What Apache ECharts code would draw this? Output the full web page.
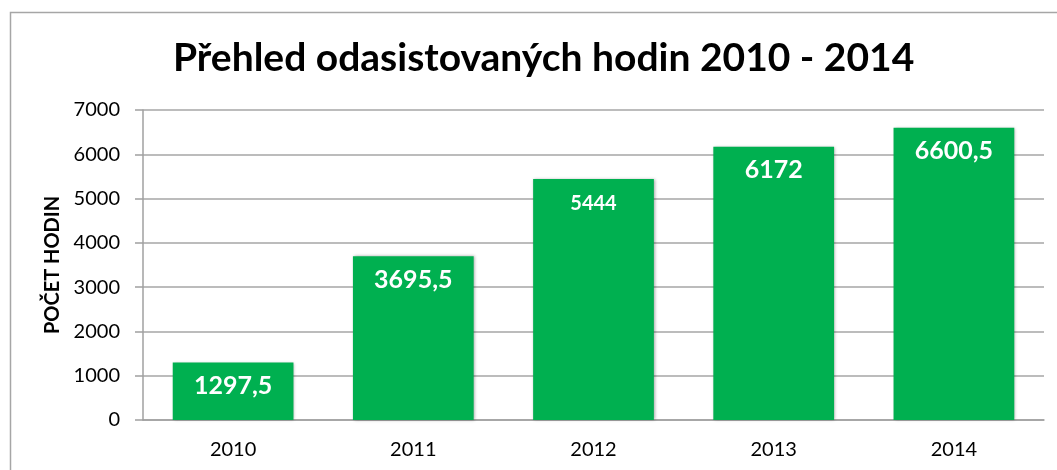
<!DOCTYPE html>
<html><head><meta charset="utf-8">
<script src="https://cdn.jsdelivr.net/npm/echarts@6/dist/echarts.min.js"></script>
<style>html,body{margin:0;padding:0;background:#fff}#c{width:1057px;height:470px}</style>
</head><body><div id="c"></div>
<script>
const categories = ['2010', '2011', '2012', '2013', '2014'];
const hours = [1297.5, 3695.5, 5444, 6172, 6600.5];
const yTicks = [0, 1000, 2000, 3000, 4000, 5000, 6000, 7000];
const titleText = 'Přehled odasistovaných hodin 2010 - 2014';
const yName = 'POČET HODIN';

const FONT = 'Lato, "Open Sans", sans-serif';
const chart = echarts.init(document.getElementById('c'), null, {renderer: 'canvas'});
chart.setOption({
  animation: false,
  backgroundColor: '#fff',
  graphic: [{
    type: 'rect', left: 8, top: 10, silent: true,
    shape: {width: 1200, height: 600},
    style: {fill: 'none', stroke: '#a6a6a6', lineWidth: 1.5}
  }],
  title: {
    text: titleText, left: 168, top: 34,
    textStyle: {fontFamily: FONT, fontWeight: 'bold', fontSize: 39, color: '#000'}
  },
  grid: {left: 143, right: 13, top: 110, bottom: 50},
  xAxis: {
    type: 'category', data: categories,
    axisLine: {lineStyle: {color: '#a0a0a0', width: 1.5}},
    axisTick: {length: 8, lineStyle: {color: '#a0a0a0', width: 1.5}},
    axisLabel: {fontFamily: FONT, fontSize: 20, color: '#000', margin: 20}
  },
  yAxis: {
    type: 'value', min: yTicks[0], max: yTicks[yTicks.length - 1], interval: 1000,
    name: yName, nameLocation: 'middle', nameGap: 78, nameRotate: 90,
    nameTextStyle: {fontFamily: FONT, fontWeight: 'bold', fontSize: 20, color: '#000'},
    axisLine: {show: true, lineStyle: {color: '#a0a0a0', width: 1.5}},
    axisTick: {show: true, length: 8, lineStyle: {color: '#a0a0a0', width: 1.5}},
    splitLine: {lineStyle: {color: '#a6a6a6', width: 1.5}},
    axisLabel: {fontFamily: FONT, fontSize: 20, color: '#000', margin: 23,
      formatter: v => String(v)}
  },
  series: [{
    type: 'bar',
    barWidth: '67%',
    data: hours.map((v, i) => ({
      value: v,
      label: i === 2 ? {fontSize: 20, distance: 15} : {}
    })),
    itemStyle: {
      color: '#00b050',
      shadowColor: 'rgba(0,0,0,0.35)', shadowBlur: 3, shadowOffsetX: 1, shadowOffsetY: 0
    },
    label: {
      show: true, position: 'insideTop', distance: 11,
      fontFamily: FONT, fontWeight: 'bold', fontSize: 25, color: '#fff',
      formatter: p => String(p.value).replace('.', ',')
    }
  }]
});
</script></body></html>
